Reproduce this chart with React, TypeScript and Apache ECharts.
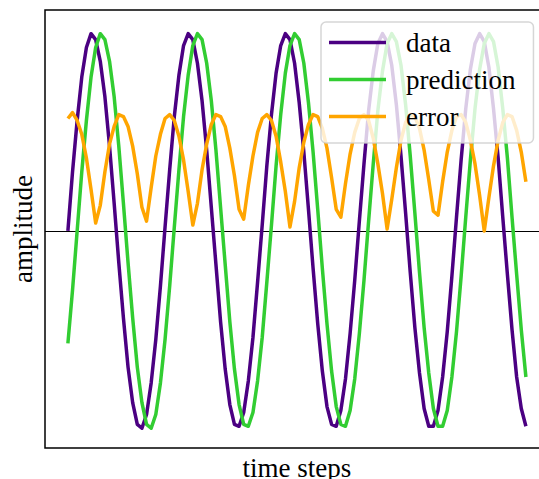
import React, { useEffect, useRef } from "react";
import * as echarts from "echarts";

const dataValues = [
  0.0, 0.3, 0.56, 0.78, 0.93, 1.0, 0.97, 0.86, 0.68, 0.43,
  0.14, -0.16, -0.44, -0.69, -0.87, -0.98, -1.0, -0.93, -0.77, -0.55,
  -0.28, 0.02, 0.31, 0.58, 0.79, 0.94, 1.0, 0.97, 0.85, 0.66,
  0.41, 0.12, -0.17, -0.46, -0.7, -0.88, -0.98, -0.99, -0.92, -0.76,
  -0.54, -0.26, 0.03, 0.33, 0.59, 0.8, 0.94, 1.0, 0.97, 0.85,
  0.65, 0.4, 0.11, -0.19, -0.47, -0.71, -0.89, -0.98, -0.99, -0.91,
  -0.75, -0.52, -0.25, 0.05, 0.34, 0.61, 0.81, 0.95, 1.0, 0.96,
  0.84, 0.64, 0.38, 0.09, -0.21, -0.49, -0.72, -0.9, -0.99, -0.99,
  -0.91, -0.74, -0.51, -0.23, 0.07, 0.36, 0.62, 0.82, 0.95, 1.0,
  0.96, 0.83, 0.62, 0.37, 0.07, -0.22, -0.5, -0.74, -0.9, -0.99,
];

const predictionValues = [
  -0.57, -0.3, 0.0, 0.3, 0.56, 0.78, 0.93, 1.0, 0.97, 0.86,
  0.68, 0.43, 0.14, -0.16, -0.44, -0.69, -0.87, -0.98, -1.0, -0.93,
  -0.77, -0.55, -0.28, 0.02, 0.31, 0.58, 0.79, 0.94, 1.0, 0.97,
  0.85, 0.66, 0.41, 0.12, -0.17, -0.46, -0.7, -0.88, -0.98, -0.99,
  -0.92, -0.76, -0.54, -0.26, 0.03, 0.33, 0.59, 0.8, 0.94, 1.0,
  0.97, 0.85, 0.65, 0.4, 0.11, -0.19, -0.47, -0.71, -0.89, -0.98,
  -0.99, -0.91, -0.75, -0.52, -0.25, 0.05, 0.34, 0.61, 0.81, 0.95,
  1.0, 0.96, 0.84, 0.64, 0.38, 0.09, -0.21, -0.49, -0.72, -0.9,
  -0.99, -0.99, -0.91, -0.74, -0.51, -0.23, 0.07, 0.36, 0.62, 0.82,
  0.95, 1.0, 0.96, 0.83, 0.62, 0.37, 0.07, -0.22, -0.5, -0.74,
];

const errorValues = [
  0.57, 0.6, 0.56, 0.49, 0.37, 0.21, 0.04, 0.13, 0.3, 0.44,
  0.53, 0.59, 0.58, 0.53, 0.43, 0.29, 0.12, 0.05, 0.22, 0.38,
  0.49, 0.57, 0.59, 0.56, 0.48, 0.36, 0.2, 0.03, 0.14, 0.31,
  0.44, 0.54, 0.59, 0.58, 0.53, 0.42, 0.28, 0.11, 0.06, 0.23,
  0.38, 0.5, 0.57, 0.59, 0.56, 0.48, 0.35, 0.2, 0.02, 0.15,
  0.32, 0.45, 0.54, 0.59, 0.58, 0.52, 0.42, 0.27, 0.11, 0.07,
  0.24, 0.39, 0.5, 0.57, 0.59, 0.56, 0.47, 0.34, 0.19, 0.01,
  0.16, 0.32, 0.46, 0.55, 0.59, 0.58, 0.52, 0.41, 0.26, 0.1,
  0.08, 0.25, 0.4, 0.51, 0.58, 0.59, 0.55, 0.46, 0.34, 0.18,
  0.0, 0.17, 0.33, 0.46, 0.55, 0.59, 0.58, 0.51, 0.4, 0.25,
];

const seriesNames = ["data", "prediction", "error"];
const seriesColors = ["#4b0082", "#32cd32", "#ffa500"];

const FONT = "'Liberation Serif', 'DejaVu Serif', serif";

export default function App() {
  const ref = useRef<HTMLDivElement>(null);

  useEffect(() => {
    document.body.style.margin = "0";
    if (!ref.current) return;
    const chart = echarts.init(ref.current, undefined, { renderer: "svg" });
    const n = dataValues.length;
    const span = n - 1;
    const toPairs = (arr: number[]) => arr.map((v, i) => [i, v]);
    const all = [dataValues, predictionValues, errorValues];

    chart.setOption({
      animation: false,
      backgroundColor: "#ffffff",
      grid: {
        left: 45,
        top: 10,
        bottom: 31,
        right: -9.8,
        outerBoundsMode: "none",
        containLabel: false,
        show: true,
        borderColor: "#000000",
        borderWidth: 1.5,
        backgroundColor: "transparent",
      },
      legend: {
        orient: "vertical",
        left: 321,
        top: 22,
        z: 10,
        icon: "rect",
        itemWidth: 57,
        itemHeight: 3.5,
        itemGap: 10,
        padding: [7, 18, 13, 8],
        backgroundColor: "rgba(255,255,255,0.8)",
        borderColor: "rgba(204,204,204,0.8)",
        borderWidth: 1.5,
        borderRadius: 5,
        data: seriesNames,
        textStyle: {
          fontFamily: FONT,
          fontSize: 27,
          lineHeight: 27,
          color: "#000000",
          padding: [0, 0, 0, 15],
        },
      },
      xAxis: {
        type: "value",
        min: -0.05 * span,
        max: 1.05 * span,
        axisLine: { show: false },
        axisTick: { show: false },
        axisLabel: { show: false },
        splitLine: { show: false },
        name: "time steps",
        nameLocation: "middle",
        nameGap: 6,
        nameTextStyle: { fontFamily: FONT, fontSize: 27, color: "#000000" },
      },
      yAxis: {
        type: "value",
        min: -1.1,
        max: 1.12,
        axisLine: { show: false },
        axisTick: { show: false },
        axisLabel: { show: false },
        splitLine: { show: false },
        name: "amplitude",
        nameLocation: "middle",
        nameGap: 9,
        nameTextStyle: { fontFamily: FONT, fontSize: 27, color: "#000000" },
      },
      series: all.map((arr, k) => ({
        name: seriesNames[k],
        type: "line",
        data: toPairs(arr),
        symbol: "none",
        showSymbol: false,
        color: seriesColors[k],
        lineStyle: { color: seriesColors[k], width: 3.5, join: "round", cap: "butt" },
        ...(k === 0
          ? {
              markLine: {
                silent: true,
                symbol: "none",
                z: 1,
                label: { show: false },
                lineStyle: { color: "#000000", width: 1, type: "solid" },
                data: [{ yAxis: 0 }],
              },
            }
          : {}),
      })),
    });

    return () => {
      chart.dispose();
    };
  }, []);

  return <div ref={ref} style={{ width: 539, height: 479 }} />;
}
